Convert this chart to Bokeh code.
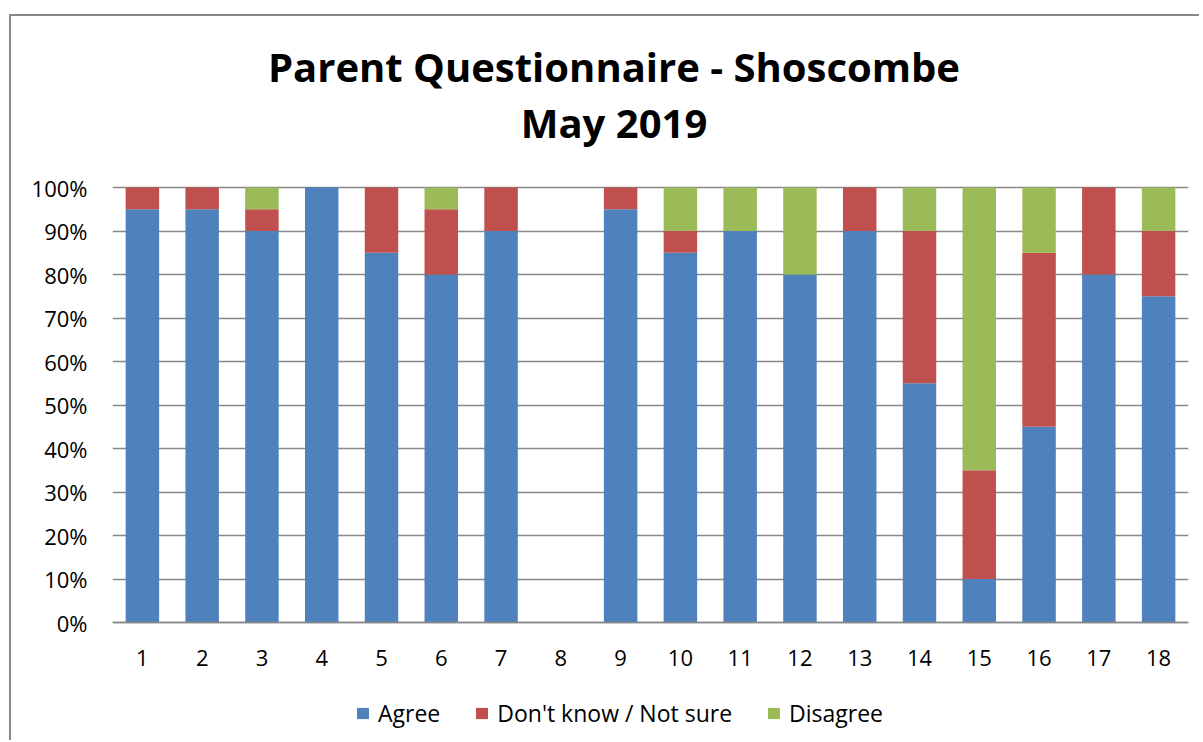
from bokeh.plotting import figure
from bokeh.models import (ColumnDataSource, Label, Legend, LegendItem, FactorRange, Range1d,
                          NumeralTickFormatter, FixedTicker)
from bokeh.embed import file_html
from bokeh.resources import INLINE

questions = [str(i) for i in range(1, 19)]
agree = [0.95, 0.95, 0.90, 1.00, 0.85, 0.80, 0.90, 0.0, 0.95, 0.85, 0.90, 0.80, 0.90, 0.55, 0.10, 0.45, 0.80, 0.75]
not_sure = [0.05, 0.05, 0.05, 0.0, 0.15, 0.15, 0.10, 0.0, 0.05, 0.05, 0.0, 0.0, 0.10, 0.35, 0.25, 0.40, 0.20, 0.15]
disagree = [0.0, 0.0, 0.05, 0.0, 0.0, 0.05, 0.0, 0.0, 0.0, 0.10, 0.10, 0.20, 0.0, 0.10, 0.65, 0.15, 0.0, 0.10]
series = ["Agree", "Don't know / Not sure", "Disagree"]
colors = ["#4F81BD", "#C0504D", "#9BBB59"]
y_ticks = [i / 10 for i in range(11)]
title_lines = ["Parent Questionnaire - Shoscombe", "May 2019"]

FONT = "Open Sans"

source = ColumnDataSource(dict(q=questions, agree=agree, not_sure=not_sure, disagree=disagree))

# The frame spans the full height so that the title and legend (drawn inside it) are not clipped;
# the 0-100% scale sits between the page rows 622 and 187.
p = figure(x_range=FactorRange(*questions, range_padding=0), y_range=Range1d(-120 / 435, 1 + 171 / 435),
           width=1190, height=726, output_backend="svg", toolbar_location=None,
           min_border_left=101, min_border_right=13, min_border_top=0, min_border_bottom=0)
p.styles = {"margin-left": "9px", "margin-top": "14px",
            "border-left": "2px solid #898989", "border-top": "2px solid #898989"}
p.outline_line_color = None

renderers = p.vbar_stack(["agree", "not_sure", "disagree"], x="q", width=0.56, source=source,
                         color=colors, line_color=None)

p.xgrid.grid_line_color = None
p.ygrid.grid_line_color = "#888888"
p.ygrid.grid_line_width = 1.3
p.ygrid.ticker = FixedTicker(ticks=y_ticks)

p.yaxis.ticker = FixedTicker(ticks=y_ticks)
p.yaxis.formatter = NumeralTickFormatter(format="0%")
p.yaxis.axis_line_color = None
p.yaxis.major_tick_line_color = None
p.yaxis.minor_tick_line_color = None
p.yaxis.major_tick_out = 0
p.yaxis.major_label_text_font = FONT
p.yaxis.major_label_text_font_size = "22px"
p.yaxis.major_label_text_color = "#000000"
p.yaxis.major_label_standoff = 25

p.xaxis.fixed_location = 0
p.xaxis.axis_line_color = "#888888"
p.xaxis.axis_line_width = 1.3
p.xaxis.major_tick_line_color = None
p.xaxis.minor_tick_line_color = None
p.xaxis.major_tick_out = 0
p.xaxis.major_label_text_font = FONT
p.xaxis.major_label_text_font_size = "22px"
p.xaxis.major_label_text_color = "#000000"
p.xaxis.major_label_standoff = 27

for text, y in zip(title_lines, [676, 620]):
    p.add_layout(Label(x=501.5, y=y, x_units="screen", y_units="screen", text=text,
                       text_align="center", text_baseline="alphabetic", text_font=FONT,
                       text_font_style="bold", text_font_size="40px", text_color="#000000"))

legend = Legend(items=[LegendItem(label=s, renderers=[r]) for s, r in zip(series, renderers)],
                orientation="horizontal", location=(243, 13), padding=0, margin=0,
                glyph_width=15, glyph_height=14, label_standoff=8, spacing=34,
                label_text_font=FONT, label_text_font_size="23px", label_text_color="#000000",
                border_line_color=None, background_fill_alpha=0)
p.add_layout(legend, "center")

open("out.html", "w").write(file_html(p, INLINE))
